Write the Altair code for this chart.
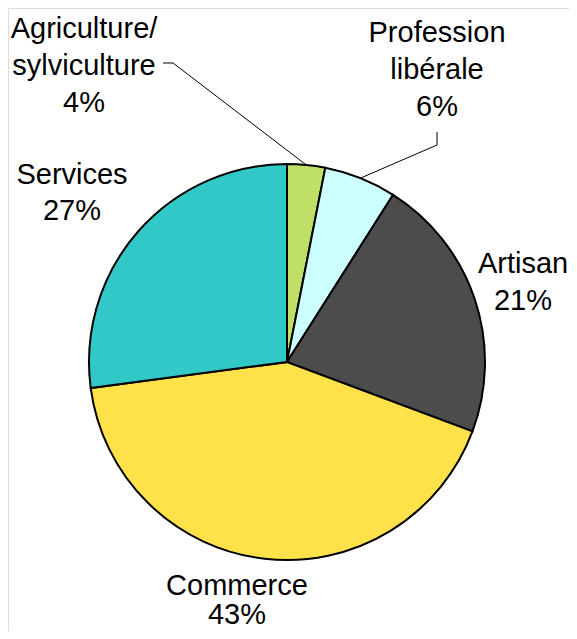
import math
import altair as alt
import pandas as pd

# ---- data ----
categories = ["Agriculture/sylviculture", "Profession libérale", "Artisan", "Commerce", "Services"]
values = [3.1, 5.9, 21.7, 42.2, 27.1]
label_lines = [["Agriculture/", "sylviculture", "4%"], ["Profession", "libérale", "6%"],
               ["Artisan", "21%"], ["Commerce", "43%"], ["Services", "27%"]]
colors = ["#C0DF66", "#CCFFFF", "#4C4C4C", "#FFE24A", "#33C8C8"]

# ---- layout (canvas pixels) ----
W, H = 561, 623
CX, CY, R = 279, 354, 198
label_pos = [(76, 21), (429, 25), (515, 256), (229, 578), (64, 167)]  # first-line centre
label_lh = [37, 37, 37, 29, 36]
leader_bends = {0: [(155, 55), (165, 55)], 1: [(429, 124), (429, 137)]}

df = pd.DataFrame({"cat": categories, "val": values, "ord": list(range(len(categories)))})

pie = alt.Chart(df).mark_arc(radius=R, stroke="black", strokeWidth=2).encode(
    theta=alt.Theta("val:Q", stack=True),
    order=alt.Order("ord:Q"),
    color=alt.Color("cat:N", scale=alt.Scale(domain=categories, range=colors), legend=None),
    x=alt.value(CX),
    y=alt.value(CY),
)

lrows = []
for i, lines in enumerate(label_lines):
    for k, t in enumerate(lines):
        lrows.append({"text": t, "lx": label_pos[i][0], "ly": label_pos[i][1] + k * label_lh[i]})
labels = alt.Chart(pd.DataFrame(lrows)).mark_text(
    font="Liberation Sans", fontSize=29, align="center", baseline="middle", color="black",
).encode(
    x=alt.X("lx:Q", scale=None, axis=None),
    y=alt.Y("ly:Q", scale=None, axis=None),
    text="text:N",
)

# leader lines: from label bend points to slice edge at mid-angle
total = sum(values)
rows = []
cum = 0.0
for i, v in enumerate(values):
    mid = (cum + v / 2) / total * 2 * math.pi
    cum += v
    if i in leader_bends:
        pts = leader_bends[i] + [(CX + R * math.sin(mid), CY - R * math.cos(mid))]
        for j, (px, py) in enumerate(pts):
            rows.append({"g": i, "s": j, "px": px, "py": py})
leaders = alt.Chart(pd.DataFrame(rows)).mark_line(color="black", strokeWidth=1).encode(
    x=alt.X("px:Q", scale=None, axis=None),
    y=alt.Y("py:Q", scale=None, axis=None),
    detail="g:N",
    order="s:Q",
)

chart = alt.layer(pie, leaders, labels).properties(
    width=W, height=H, autosize=alt.AutoSizeParams(type="none"), padding=0
).configure_view(stroke="transparent", strokeWidth=0).configure(background="white")

chart.save("out.html", embed_options={"renderer": "svg", "actions": False})
